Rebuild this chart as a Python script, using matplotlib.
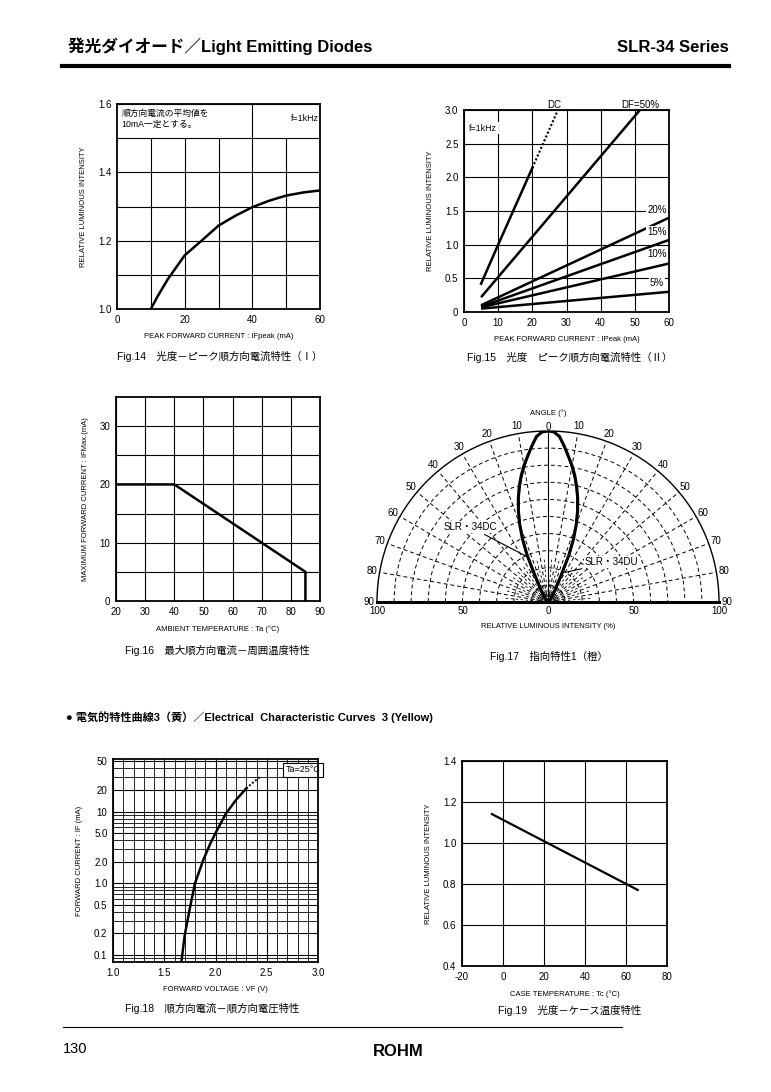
import matplotlib

matplotlib.use('Agg')

import numpy as np
import matplotlib.pyplot as plt
from matplotlib.lines import Line2D
from matplotlib.ticker import LogLocator, MultipleLocator, NullFormatter

plt.rcParams['font.family'] = ['Liberation Sans', 'Noto Sans CJK JP']
plt.rcParams['axes.unicode_minus'] = False

W, H = 771, 1092

# Fig.14 relative intensity vs peak forward current
f14_current = [10, 12, 15, 20, 25, 30, 35, 40, 45, 50, 55, 60]
f14_intensity = [1.0, 1.037, 1.087, 1.157, 1.2, 1.244, 1.273, 1.298, 1.317, 1.332, 1.341, 1.347]

# Fig.15 relative intensity vs peak current, per duty
f15_dc_current = [5, 10, 20]
f15_dc = [0.42, 1.0, 2.14]
f15_dc_dot_current = [20, 24, 27.5]
f15_dc_dot = [2.14, 2.6, 3.0]
f15_duty_names = ['DF=50%', '20%', '15%', '10%', '5%']
f15_duty_current = [[5, 51.5], [5, 60], [5, 60], [5, 60], [5, 60]]
f15_duty_values = [[0.22, 3.0], [0.1, 1.4], [0.08, 1.07], [0.07, 0.72], [0.05, 0.3]]

# Fig.16 max forward current vs ambient temperature
f16_temp = [20, 40, 85, 85]
f16_current = [20, 20, 5, 0]

# Fig.17 directivity (deg, %)
f17_angle = [0, 2, 4, 6, 8, 10, 12, 14, 16, 18, 20, 22, 24, 26, 28, 30, 33, 36, 40, 50, 90]
f17_dc = [100, 99.5, 97, 91.5, 86, 81, 75.5, 69.5, 63, 56, 48.5, 40, 30, 18, 11, 8, 5.5, 3.5, 2, 0.5, 0]
f17_du = [100, 99.5, 96.5, 91, 85.5, 80, 74.5, 68.5, 62, 55, 47.5, 39.5, 32, 21, 15, 11, 8, 5, 3, 1, 0]

# Fig.18 forward current vs forward voltage
f18_vf = [1.667, 1.70, 1.75, 1.80, 1.88, 1.95, 2.00, 2.10, 2.20, 2.30]
f18_if = [0.08, 0.19, 0.45, 1.0, 2.1, 3.6, 5.0, 9.3, 14.5, 21]
f18_vf_dot = [2.30, 2.36, 2.43]
f18_if_dot = [21, 25, 30]

# Fig.19 relative intensity vs case temperature
f19_temp = [-5.4, 65.7]
f19_intensity = [1.141, 0.771]

fig = plt.figure(figsize=(W / 100, H / 100), dpi=100)


def px_axes(l, t, r, b, **kw):
    return fig.add_axes([l / W, 1 - b / H, (r - l) / W, (b - t) / H], **kw)


def fig_text(x, y, s, **kw):
    fig.text(x / W, 1 - y / H, s, **kw)


def style(ax, xlabel, ylabel, grid_axis='both'):
    for sp in ax.spines.values():
        sp.set_linewidth(1.3)
        sp.set_zorder(3)
    ax.tick_params(which='both', length=0, labelsize=7, pad=4)
    ax.set_xlabel(xlabel, fontsize=5.5, labelpad=6)
    ax.set_ylabel(ylabel, fontsize=5.5, labelpad=8)
    ax.grid(which='both', axis=grid_axis, color='k', lw=0.8)
    ax.set_axisbelow(True)


# header / footer
fig_text(68, 52, '発光ダイオード／Light Emitting Diodes', fontsize=12, fontweight='bold', va='baseline')
fig_text(729, 52, 'SLR-34 Series', fontsize=12, fontweight='bold', ha='right', va='baseline')
fig.add_artist(Line2D([62 / W, 729 / W], [1 - 66 / H, 1 - 66 / H], color='k', lw=3))
fig.add_artist(Line2D([63 / W, 622 / W], [1 - 1027 / H, 1 - 1027 / H], color='k', lw=0.8))
fig_text(63, 1049, '130', fontsize=10.5, va='center')
fig_text(398, 1052, 'ROHM', fontsize=12, fontweight='heavy', ha='center', va='center')
fig_text(66, 717, '● 電気的特性曲線3（黄）／Electrical  Characteristic Curves  3 (Yellow)',
         fontsize=8, fontweight='bold', va='center')

# Fig.14
ax = px_axes(117, 104, 320, 309)
ax.set_xlim(0, 60)
ax.set_ylim(1.0, 1.6)
ax.set_xticks([0, 20, 40, 60])
ax.set_yticks([1.0, 1.2, 1.4, 1.6])
ax.set_yticklabels(['1.0', '1.2', '1.4', '1.6'])
ax.set_yticks([1.1, 1.3, 1.5], minor=True)
style(ax, 'PEAK FORWARD CURRENT : IFpeak (mA)', 'RELATIVE LUMINOUS INTENSITY', grid_axis='y')
ax.vlines([10, 20, 30, 40, 50], 1.0, 1.5, color='k', lw=0.8, zorder=1)
ax.vlines([40], 1.5, 1.6, color='k', lw=0.8, zorder=1)
ax.plot(f14_current, f14_intensity, color='k', lw=1.8)
ax.text(1.3, 1.585, '順方向電流の平均値を\n10mA一定とする。', fontsize=6.3, va='top', linespacing=1.3)
ax.text(55.5, 1.558, 'f=1kHz', fontsize=6.3, ha='center', va='center')
fig_text(220, 357, 'Fig.14　光度－ピーク順方向電流特性（Ⅰ）', fontsize=7.5, ha='center', va='center')

# Fig.15
ax = px_axes(464, 110, 669, 312)
ax.set_xlim(0, 60)
ax.set_ylim(0, 3.0)
ax.set_xticks(range(0, 61, 10))
ax.set_yticks([0, 0.5, 1.0, 1.5, 2.0, 2.5, 3.0])
ax.set_yticklabels(['0', '0.5', '1.0', '1.5', '2.0', '2.5', '3.0'])
style(ax, 'PEAK FORWARD CURRENT : IPeak (mA)', 'RELATIVE LUMINOUS INTENSITY')
ax.plot(f15_dc_current, f15_dc, color='k', lw=1.8)
ax.plot(f15_dc_dot_current, f15_dc_dot, color='k', lw=1.5, ls=(0, (1, 1)))
for name, xs, ys in zip(f15_duty_names, f15_duty_current, f15_duty_values):
    ax.plot(xs, ys, color='k', lw=1.8, solid_capstyle='butt')
ax.text(26.5, 3.0, 'DC', fontsize=7, ha='center', va='bottom')
ax.text(51.5, 3.0, 'DF=50%', fontsize=7, ha='center', va='bottom')
for name, yy in zip(['20%', '15%', '10%', '5%'], [1.44, 1.12, 0.78, 0.35]):
    ax.text(56.5, yy, name, fontsize=7, ha='center', va='bottom',
            bbox=dict(boxstyle='square,pad=0.1', fc='white', ec='none'))
ax.text(1.5, 2.73, 'f=1kHz', fontsize=6.3, va='center',
        bbox=dict(boxstyle='square,pad=0.2', fc='white', ec='none'))
fig_text(570, 358, 'Fig.15　光度　ピーク順方向電流特性（Ⅱ）', fontsize=7.5, ha='center', va='center')

# Fig.16
ax = px_axes(116, 397, 320, 601)
ax.set_xlim(20, 90)
ax.set_ylim(0, 35)
ax.set_xticks(range(20, 91, 10))
ax.set_yticks([0, 10, 20, 30])
ax.set_yticks([5, 15, 25], minor=True)
style(ax, 'AMBIENT TEMPERATURE : Ta (°C)', 'MAXIMUM FORWARD CURRENT : IFMax.(mA)')
ax.plot(f16_temp, f16_current, color='k', lw=1.8)
fig_text(217, 651, 'Fig.16　最大順方向電流－周囲温度特性', fontsize=7.5, ha='center', va='center')

# Fig.17 polar (square box so the half circle spans the full width)
ax = px_axes(377, 345.5, 719, 687.5, projection='polar')
ax.set_theta_zero_location('N')
ax.set_theta_direction(-1)
ax.set_thetamin(-90)
ax.set_thetamax(90)
ax.set_rlim(0, 100)
ax.set_thetagrids(range(-90, 91, 10), labels=[''] * 19)
ax.set_rgrids(range(10, 100, 10), labels=[''] * 9)
ax.grid(True, color='k', lw=0.7, ls=(0, (4, 3)))
ax.spines['polar'].set_linewidth(1.0)
ax.spines['start'].set_linewidth(2.2)
ax.spines['end'].set_linewidth(2.2)
ax.tick_params(length=0)
for a in range(-85, 90, 10):
    ax.plot(np.deg2rad([a, a]), [0, 25], color='k', lw=0.6, ls=(0, (3, 3)))
ax.plot([0, 0], [0, 100], color='k', lw=0.8)
th = np.deg2rad(f17_angle)
ax.plot(th, f17_dc, color='k', lw=2.2)
ax.plot(-th, f17_dc, color='k', lw=2.2)
ax.plot(th, f17_du, color='k', lw=1.2)
ax.plot(-th, f17_du, color='k', lw=1.2)
for a in range(0, 91, 10):
    for sgn in ([1, -1] if a else [1]):
        r_lab = 102.5 if a == 0 else 104.5
        ax.text(np.deg2rad(sgn * a), r_lab, str(a), fontsize=7, ha='center', va='center',
                clip_on=False)
for rr, sgn, lab in [(100, -1, '100'), (50, -1, '50'), (0, 1, '0'), (50, 1, '50'), (100, 1, '100')]:
    ax.annotate(lab, (np.deg2rad(90 * sgn), rr), xytext=(0, -3), textcoords='offset points',
                fontsize=7, ha='center', va='top', annotation_clip=False)
ax.text(0, 110.5, 'ANGLE (°)', fontsize=5.5, ha='center', va='center', clip_on=False)
ax.annotate('SLR・34DC', xy=(np.deg2rad(-26), 30), xytext=(np.deg2rad(-46), 63),
            fontsize=7, ha='center', va='center',
            bbox=dict(boxstyle='square,pad=0.1', fc='white', ec='none'),
            arrowprops=dict(arrowstyle='-', color='k', lw=0.8, shrinkA=2, shrinkB=0))
ax.annotate('SLR・34DU', xy=(np.deg2rad(30), 20), xytext=(np.deg2rad(58), 44),
            fontsize=7, ha='center', va='center',
            bbox=dict(boxstyle='square,pad=0.1', fc='white', ec='none'),
            arrowprops=dict(arrowstyle='-', color='k', lw=0.8, shrinkA=2, shrinkB=0))
fig_text(548, 627, 'RELATIVE LUMINOUS INTENSITY (%)', fontsize=5.5, ha='center', va='center')
fig_text(549, 656, 'Fig.17　指向特性1（橙）', fontsize=7.5, ha='center', va='center')

# Fig.18
ax = px_axes(113, 759, 318, 962)
ax.set_yscale('log')
ax.set_xlim(1.0, 3.0)
ax.set_ylim(0.08, 54)
ax.set_xticks([1.0, 1.5, 2.0, 2.5, 3.0])
ax.set_xticklabels(['1.0', '1.5', '2.0', '2.5', '3.0'])
ax.set_yticks([0.1, 0.2, 0.5, 1, 2, 5, 10, 20, 50])
ax.set_yticklabels(['0.1', '0.2', '0.5', '1.0', '2.0', '5.0', '10', '20', '50'])
ax.xaxis.set_minor_locator(MultipleLocator(0.1))
ax.yaxis.set_minor_locator(LogLocator(base=10, subs=np.arange(2, 10), numticks=20))
ax.yaxis.set_minor_formatter(NullFormatter())
style(ax, 'FORWARD VOLTAGE : VF (V)', 'FORWARD CURRENT : IF (mA)')
ax.grid(which='minor', color='k', lw=0.6)
ax.plot(f18_vf, f18_if, color='k', lw=1.8)
ax.plot(f18_vf_dot, f18_if_dot, color='k', lw=1.4, ls=(0, (1, 1)))
ax.text(2.85, 38, 'Ta=25°C', fontsize=6.5, ha='center', va='center',
        bbox=dict(boxstyle='square,pad=0.3', fc='white', ec='k', lw=0.8))
fig_text(212, 1009, 'Fig.18　順方向電流－順方向電圧特性', fontsize=7.5, ha='center', va='center')

# Fig.19
ax = px_axes(462, 761, 667, 966)
ax.set_xlim(-20, 80)
ax.set_ylim(0.4, 1.4)
ax.set_xticks([-20, 0, 20, 40, 60, 80])
ax.set_yticks([0.4, 0.6, 0.8, 1.0, 1.2, 1.4])
ax.set_yticklabels(['0.4', '0.6', '0.8', '1.0', '1.2', '1.4'])
style(ax, 'CASE TEMPERATURE : Tc (°C)', 'RELATIVE LUMINOUS INTENSITY')
ax.plot(f19_temp, f19_intensity, color='k', lw=1.6)
fig_text(570, 1010, 'Fig.19　光度－ケース温度特性', fontsize=7.5, ha='center', va='center')

fig.savefig('out.png', dpi=100)
